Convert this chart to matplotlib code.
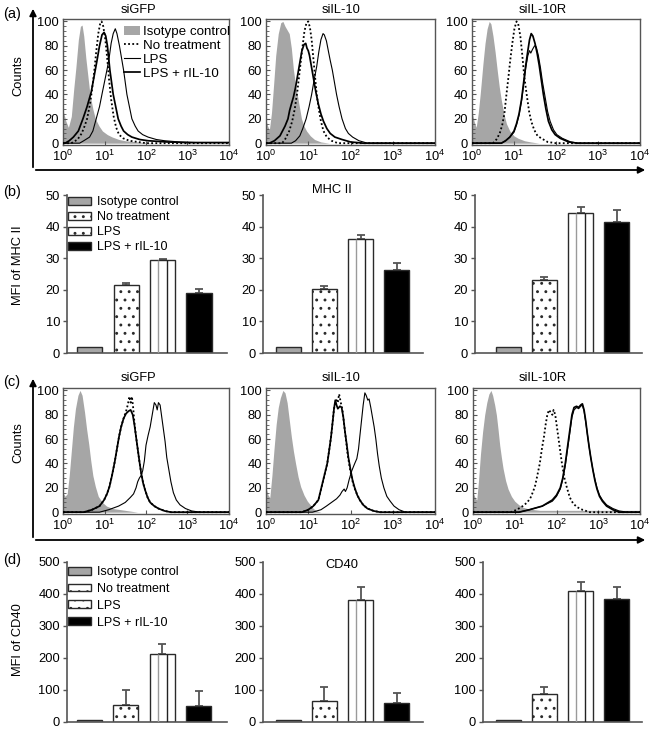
import numpy as np
import matplotlib
matplotlib.use('Agg')
import matplotlib.pyplot as plt
from matplotlib.patches import Patch, FancyArrowPatch
from matplotlib.lines import Line2D
from matplotlib.ticker import FixedLocator, MultipleLocator, LogLocator, NullFormatter

W, H = 651, 729
plt.rcParams['font.family'] = ['Liberation Sans', 'DejaVu Sans']
plt.rcParams['font.size'] = 9.3
plt.rcParams['hatch.linewidth'] = 0.9
plt.rcParams['mathtext.default'] = 'regular'

# ---------------- data ----------------
GROUPS = ['Isotype control', 'No treatment', 'LPS', 'LPS + rIL-10']
CELL_LINES = ['siGFP', 'siIL-10', 'siIL-10R']
HIST_XTICKS = [1, 10, 100, 1000, 10000]
HIST_YTICKS = [0, 20, 40, 60, 80, 100]
MHC_YTICKS = [0, 10, 20, 30, 40, 50]
CD40_YTICKS = [0, 100, 200, 300, 400, 500]

# MFI bars (b) MHC II, (d) CD40 : [isotype, no treatment, LPS, LPS + rIL-10]
MHC_SIGFP = [2, 21.4, 29.3, 19.1]
MHC_SIGFP_ERR = [0, 0.9, 0.4, 1.1]
MHC_SIIL10 = [2, 20.2, 36.1, 26.3]
MHC_SIIL10_ERR = [0, 1.0, 1.3, 2.3]
MHC_SIIL10R = [2, 23.1, 44.3, 41.3]
MHC_SIIL10R_ERR = [0, 1.0, 1.8, 4.0]
CD40_SIGFP = [7, 52, 213, 50]
CD40_SIGFP_ERR = [0, 47, 32, 47]
CD40_SIIL10 = [7, 65, 380, 59]
CD40_SIIL10_ERR = [0, 43, 42, 32]
CD40_SIIL10R = [7, 87, 410, 384]
CD40_SIIL10R_ERR = [0, 22, 29, 38]

# Histograms: (log10 fluorescence, counts)
# (a) MHC II
A_SIGFP_ISO = [(0, 27), (0.07, 18), (0.13, 13), (0.2, 22), (0.26, 45), (0.31, 62), (0.37, 85), (0.42, 96), (0.46, 97), (0.5, 88), (0.55, 70), (0.6, 55), (0.65, 40), (0.72, 28), (0.78, 20), (0.87, 14), (0.95, 10), (1.07, 7), (1.19, 5), (1.35, 3), (1.5, 2), (1.8, 1), (2.2, 0), (4, 0)]
A_SIGFP_NONE = [(0, 0), (0.2, 0), (0.35, 3), (0.45, 8), (0.52, 14), (0.58, 20), (0.65, 32), (0.7, 44), (0.75, 58), (0.8, 75), (0.85, 90), (0.9, 99), (0.93, 100), (0.97, 96), (1.02, 85), (1.07, 68), (1.11, 52), (1.16, 36), (1.22, 22), (1.28, 13), (1.35, 7), (1.45, 4), (1.6, 2), (1.8, 1), (2.0, 0), (4, 0)]
A_SIGFP_IL10 = [(0, 0), (0.05, 0), (0.15, 2), (0.25, 5), (0.37, 10), (0.48, 20), (0.58, 30), (0.68, 42), (0.75, 55), (0.82, 68), (0.88, 80), (0.94, 89), (0.99, 91), (1.03, 88), (1.07, 80), (1.1, 70), (1.13, 60), (1.17, 50), (1.21, 40), (1.27, 30), (1.33, 20), (1.4, 14), (1.46, 10), (1.56, 7), (1.66, 5), (1.85, 3), (2.05, 2), (2.5, 1), (3.0, 0.5), (4, 0.5)]
A_SIGFP_LPS = [(0, 0), (0.4, 0), (0.5, 2), (0.64, 5), (0.72, 10), (0.8, 20), (0.88, 30), (0.95, 42), (1.01, 52), (1.07, 62), (1.12, 72), (1.16, 82), (1.21, 90), (1.26, 94), (1.3, 90), (1.36, 80), (1.41, 70), (1.46, 60), (1.5, 50), (1.54, 40), (1.6, 30), (1.66, 20), (1.74, 14), (1.81, 10), (1.92, 7), (2.05, 5), (2.25, 3), (2.45, 2), (2.8, 1), (3.2, 0.5), (4, 0.5)]

A_SIIL10_ISO = [(0, 19), (0.04, 14), (0.08, 11), (0.13, 25), (0.18, 48), (0.23, 72), (0.29, 90), (0.35, 99), (0.4, 100), (0.45, 96), (0.5, 93), (0.55, 90), (0.6, 78), (0.65, 60), (0.7, 48), (0.75, 38), (0.8, 28), (0.84, 20), (0.9, 14), (0.96, 10), (1.05, 6), (1.15, 3), (1.3, 1), (1.5, 0), (4, 0)]
A_SIIL10_NONE = [(0, 0), (0.38, 0), (0.45, 3), (0.55, 10), (0.62, 18), (0.68, 28), (0.74, 42), (0.8, 60), (0.86, 78), (0.91, 92), (0.96, 99), (1.0, 100), (1.04, 95), (1.08, 85), (1.12, 70), (1.16, 55), (1.2, 40), (1.25, 28), (1.3, 18), (1.36, 10), (1.44, 5), (1.55, 2), (1.7, 0), (4, 0)]
A_SIIL10_IL10 = [(0, 0), (0.08, 0), (0.2, 2), (0.33, 6), (0.45, 14), (0.52, 20), (0.56, 27), (0.6, 32), (0.65, 38), (0.7, 46), (0.75, 56), (0.8, 66), (0.85, 76), (0.9, 81), (0.94, 82), (0.97, 78), (1.0, 76), (1.03, 72), (1.08, 62), (1.13, 52), (1.18, 42), (1.24, 32), (1.3, 24), (1.36, 18), (1.44, 12), (1.52, 8), (1.63, 5), (1.8, 3), (2.0, 1), (2.3, 0), (4, 0)]
A_SIIL10_LPS = [(0, 0), (0.6, 0), (0.7, 2), (0.8, 6), (0.87, 12), (0.95, 20), (1.02, 30), (1.08, 40), (1.14, 52), (1.2, 63), (1.25, 75), (1.3, 85), (1.35, 90), (1.38, 89), (1.43, 84), (1.48, 75), (1.52, 68), (1.57, 60), (1.62, 50), (1.67, 40), (1.73, 30), (1.8, 20), (1.88, 12), (1.95, 8), (2.05, 5), (2.2, 2), (2.4, 0), (4, 0)]

A_SIIL10R_ISO = [(0, 26), (0.05, 18), (0.1, 13), (0.15, 25), (0.2, 42), (0.26, 65), (0.31, 82), (0.36, 94), (0.41, 100), (0.45, 98), (0.5, 88), (0.55, 75), (0.6, 60), (0.65, 46), (0.7, 35), (0.76, 24), (0.82, 16), (0.9, 10), (1.0, 6), (1.1, 4), (1.25, 2), (1.4, 1), (1.6, 0), (4, 0)]
A_SIIL10R_NONE = [(0, 0), (0.5, 0), (0.58, 3), (0.66, 8), (0.72, 15), (0.77, 24), (0.82, 40), (0.87, 55), (0.91, 68), (0.96, 82), (1.01, 94), (1.06, 100), (1.1, 98), (1.15, 88), (1.19, 75), (1.23, 60), (1.27, 48), (1.31, 38), (1.36, 26), (1.41, 18), (1.48, 11), (1.56, 6), (1.65, 4), (1.8, 1), (2.0, 0), (4, 0)]
A_SIIL10R_IL10 = [(0, 0), (0.7, 0), (0.8, 2), (0.9, 5), (1.0, 10), (1.06, 16), (1.12, 24), (1.18, 36), (1.23, 50), (1.28, 64), (1.33, 76), (1.37, 85), (1.41, 90), (1.45, 88), (1.5, 82), (1.55, 74), (1.6, 64), (1.65, 52), (1.7, 40), (1.76, 28), (1.82, 18), (1.9, 11), (1.98, 7), (2.1, 4), (2.3, 1), (2.5, 0), (4, 0)]
A_SIIL10R_LPS = [(0, 0), (0.7, 0), (0.8, 2), (0.9, 5), (1.0, 9), (1.06, 15), (1.12, 23), (1.18, 35), (1.23, 48), (1.28, 62), (1.33, 72), (1.37, 76), (1.4, 74), (1.44, 77), (1.49, 80), (1.53, 79), (1.58, 72), (1.63, 62), (1.68, 50), (1.74, 38), (1.8, 26), (1.86, 18), (1.94, 11), (2.02, 7), (2.15, 4), (2.35, 1), (2.55, 0), (4, 0)]

# (c) CD40
C_SIGFP_ISO = [(0, 16), (0.05, 13), (0.1, 15), (0.15, 30), (0.2, 50), (0.25, 70), (0.3, 85), (0.36, 96), (0.41, 100), (0.46, 96), (0.52, 82), (0.57, 68), (0.62, 56), (0.67, 42), (0.72, 30), (0.78, 21), (0.85, 13), (0.95, 8), (1.05, 5), (1.2, 3), (1.4, 2), (1.6, 1), (1.8, 0), (4, 0)]
C_SIGFP_NONE = [(0, 0), (0.5, 0), (0.7, 2), (0.88, 5), (0.99, 10), (1.06, 15), (1.12, 21), (1.18, 30), (1.25, 42), (1.3, 52), (1.35, 62), (1.4, 70), (1.46, 77), (1.52, 83), (1.56, 88), (1.6, 95), (1.63, 90), (1.66, 95), (1.69, 86), (1.72, 74), (1.76, 62), (1.8, 52), (1.84, 42), (1.88, 33), (1.93, 24), (1.98, 18), (2.04, 12), (2.1, 8), (2.2, 5), (2.3, 3), (2.45, 1), (2.6, 0), (4, 0)]
C_SIGFP_IL10 = [(0, 0), (0.5, 0), (0.7, 2), (0.88, 5), (0.99, 10), (1.06, 15), (1.12, 21), (1.18, 30), (1.25, 42), (1.3, 52), (1.35, 62), (1.4, 70), (1.46, 77), (1.52, 81), (1.58, 83), (1.63, 84), (1.68, 80), (1.72, 72), (1.76, 62), (1.8, 52), (1.84, 42), (1.88, 33), (1.93, 24), (1.98, 18), (2.04, 12), (2.1, 8), (2.2, 5), (2.3, 3), (2.45, 1), (2.6, 0), (4, 0)]
C_SIGFP_LPS = [(0, 0), (0.88, 0), (1.1, 2), (1.34, 5), (1.5, 8), (1.62, 12), (1.7, 15), (1.76, 20), (1.8, 25), (1.84, 28), (1.88, 30), (1.92, 34), (1.96, 42), (2.0, 55), (2.05, 63), (2.1, 70), (2.15, 80), (2.2, 90), (2.24, 88), (2.27, 84), (2.3, 90), (2.34, 88), (2.38, 78), (2.42, 68), (2.46, 58), (2.5, 45), (2.55, 35), (2.6, 25), (2.66, 16), (2.73, 10), (2.82, 6), (2.95, 3), (3.1, 1), (3.3, 0), (4, 0)]

C_SIIL10_ISO = [(0, 20), (0.05, 14), (0.09, 12), (0.14, 30), (0.19, 52), (0.24, 72), (0.29, 86), (0.34, 94), (0.4, 100), (0.45, 98), (0.5, 90), (0.55, 76), (0.6, 62), (0.65, 50), (0.7, 40), (0.76, 29), (0.82, 21), (0.9, 14), (0.98, 9), (1.05, 6), (1.12, 3), (1.2, 1), (1.3, 0), (4, 0)]
C_SIIL10_NONE = [(0, 0), (0.85, 0), (1.0, 2), (1.12, 5), (1.24, 10), (1.31, 20), (1.38, 30), (1.45, 40), (1.5, 52), (1.54, 62), (1.58, 75), (1.61, 85), (1.64, 90), (1.67, 92), (1.7, 90), (1.73, 97), (1.77, 90), (1.81, 84), (1.85, 72), (1.89, 60), (1.93, 48), (1.98, 37), (2.03, 28), (2.08, 21), (2.15, 15), (2.22, 10), (2.3, 6), (2.4, 3), (2.55, 1), (2.7, 0), (4, 0)]
C_SIIL10_IL10 = [(0, 0), (0.85, 0), (1.0, 2), (1.12, 5), (1.24, 10), (1.31, 20), (1.38, 30), (1.45, 40), (1.5, 52), (1.54, 62), (1.58, 75), (1.61, 85), (1.64, 92), (1.67, 88), (1.7, 85), (1.75, 87), (1.79, 86), (1.83, 78), (1.87, 66), (1.91, 56), (1.95, 45), (2.0, 35), (2.05, 26), (2.1, 20), (2.16, 14), (2.22, 10), (2.3, 6), (2.4, 3), (2.55, 1), (2.7, 0), (4, 0)]
C_SIIL10_LPS = [(0, 0), (1.1, 0), (1.3, 2), (1.43, 5), (1.55, 8), (1.67, 11), (1.75, 14), (1.8, 17), (1.85, 19), (1.88, 17), (1.92, 20), (1.97, 27), (2.03, 34), (2.1, 40), (2.15, 44), (2.19, 52), (2.22, 62), (2.26, 75), (2.3, 88), (2.34, 98), (2.37, 96), (2.41, 92), (2.44, 93), (2.48, 86), (2.52, 78), (2.56, 70), (2.6, 60), (2.64, 48), (2.68, 38), (2.73, 28), (2.79, 20), (2.86, 13), (2.94, 9), (3.03, 5), (3.15, 2), (3.3, 0), (4, 0)]

C_SIIL10R_ISO = [(0, 16), (0.05, 12), (0.09, 10), (0.13, 25), (0.18, 48), (0.23, 66), (0.28, 80), (0.33, 90), (0.38, 97), (0.43, 100), (0.47, 96), (0.52, 88), (0.56, 80), (0.6, 68), (0.64, 55), (0.68, 45), (0.72, 36), (0.78, 26), (0.84, 19), (0.92, 13), (1.0, 9), (1.1, 6), (1.2, 4), (1.35, 2.5), (1.6, 1.5), (4, 1.5)]
C_SIIL10R_NONE = [(0, 0), (0.9, 0), (1.05, 2), (1.19, 5), (1.3, 8), (1.38, 12), (1.44, 17), (1.49, 22), (1.54, 30), (1.6, 40), (1.65, 52), (1.7, 62), (1.74, 72), (1.78, 80), (1.82, 84), (1.86, 82), (1.9, 80), (1.93, 84), (1.97, 80), (2.01, 70), (2.05, 60), (2.09, 50), (2.13, 40), (2.19, 28), (2.25, 20), (2.32, 12), (2.4, 7), (2.5, 4), (2.62, 2), (2.8, 0), (4, 0)]
C_SIIL10R_IL10 = [(0, 0), (1.1, 0), (1.35, 2), (1.66, 5), (1.9, 10), (2.0, 14), (2.09, 20), (2.15, 28), (2.21, 40), (2.25, 50), (2.29, 60), (2.33, 70), (2.37, 80), (2.42, 86), (2.48, 87), (2.53, 86), (2.58, 88), (2.62, 89), (2.66, 84), (2.7, 75), (2.74, 64), (2.78, 54), (2.82, 45), (2.87, 35), (2.92, 26), (2.97, 19), (3.03, 13), (3.1, 9), (3.2, 5), (3.35, 2), (3.5, 0), (4, 0)]
C_SIIL10R_LPS = [(0, 0), (1.1, 0), (1.35, 2), (1.66, 5), (1.9, 9), (2.0, 13), (2.09, 19), (2.15, 27), (2.21, 38), (2.25, 48), (2.29, 58), (2.33, 68), (2.37, 78), (2.42, 84), (2.48, 86), (2.53, 85), (2.58, 87), (2.62, 88), (2.66, 83), (2.7, 74), (2.74, 64), (2.78, 54), (2.82, 45), (2.87, 35), (2.92, 27), (2.97, 20), (3.03, 14), (3.1, 10), (3.2, 6), (3.35, 3), (3.5, 1), (3.7, 0), (4, 0)]

# ---------------- style ----------------
GRAY = '#a6a6a6'
EDGE = '#2a2a2a'
AXC = '#555555'
DOTTED = (0, (1.0, 1.3))
FS = 9.3

fig = plt.figure(figsize=(W / 100, H / 100), dpi=100)


def rect(l, t, r, b):
    return [l / W, 1 - b / H, (r - l) / W, (b - t) / H]


def fpt(x, y):
    return (x / W, 1 - y / H)


def draw_hist(ax, iso, none, il10, lps):
    x, y = np.array(iso, dtype=float).T
    ax.fill_between(10 ** x, y, 0, color=GRAY, lw=0, zorder=1)
    x, y = np.array(none, dtype=float).T
    ax.plot(10 ** x, y, color='black', lw=1.3, ls=DOTTED, zorder=3)
    x, y = np.array(lps, dtype=float).T
    ax.plot(10 ** x, y, color='black', lw=0.8, zorder=4)
    x, y = np.array(il10, dtype=float).T
    ax.plot(10 ** x, y, color='black', lw=1.25, zorder=5)
    ax.set_xscale('log')
    ax.set_xlim(HIST_XTICKS[0], HIST_XTICKS[-1])
    ax.set_ylim(-1.5, 102)
    ax.xaxis.set_major_locator(FixedLocator(HIST_XTICKS))
    ax.xaxis.set_minor_locator(LogLocator(base=10, subs=np.arange(2, 10)))
    ax.xaxis.set_minor_formatter(NullFormatter())
    ax.yaxis.set_major_locator(FixedLocator(HIST_YTICKS))
    ax.yaxis.set_minor_locator(MultipleLocator(4))
    ax.tick_params(which='both', direction='in', colors=AXC, labelcolor='black',
                   labelsize=FS, top=False, right=False)
    ax.tick_params(which='major', length=3, width=0.8, pad=3)
    ax.tick_params(which='minor', length=2, width=0.6)
    for s in ax.spines.values():
        s.set_color(AXC)
        s.set_linewidth(1.0)


def draw_bars(ax, vals, errs, ymax, yticks, xlim):
    xs = np.arange(len(vals))
    w = 0.69
    ax.bar(xs[0], vals[0], w, color=GRAY, edgecolor=EDGE, lw=1, zorder=2)
    ax.bar(xs[1], vals[1], w, color='white', edgecolor=EDGE, hatch='..', lw=1, zorder=2)
    ax.bar(xs[2], vals[2], w, color='white', edgecolor=EDGE, lw=1, zorder=2)
    ax.vlines([xs[2] - 0.13, xs[2] + 0.13], 0, vals[2], colors=['#9a9a9a', '#222222'],
              lw=1.0, zorder=3)
    ax.bar(xs[3], vals[3], w, color='black', edgecolor=EDGE, lw=1, zorder=2)
    ax.errorbar(xs[1:], vals[1:], yerr=[np.zeros(len(xs) - 1), errs[1:]], fmt='none',
                ecolor='#555555', elinewidth=1.3, capsize=3, capthick=1.3, zorder=1)
    ax.set_ylim(0, ymax)
    ax.set_xlim(*xlim)
    ax.set_yticks(yticks)
    ax.set_xticks([])
    ax.spines['top'].set_visible(False)
    ax.spines['right'].set_visible(False)
    for s in ('left', 'bottom'):
        ax.spines[s].set_color(AXC)
        ax.spines[s].set_linewidth(1.2)
    ax.tick_params(axis='y', direction='out', length=3, width=1, colors=AXC,
                   labelcolor='black', labelsize=FS, pad=2)


# ---------- (a) MHC II histograms ----------
a_cols = [(63, 229), (266, 435), (472, 640)]
a_data = [(A_SIGFP_ISO, A_SIGFP_NONE, A_SIGFP_IL10, A_SIGFP_LPS),
          (A_SIIL10_ISO, A_SIIL10_NONE, A_SIIL10_IL10, A_SIIL10_LPS),
          (A_SIIL10R_ISO, A_SIIL10R_NONE, A_SIIL10R_IL10, A_SIIL10R_LPS)]
title_x = [138, 341, 543]
a_axes = []
for (l, r), d in zip(a_cols, a_data):
    ax = fig.add_axes(rect(l, 19, r, 145))
    draw_hist(ax, *d)
    a_axes.append(ax)
for tx, name in zip(title_x, CELL_LINES):
    fig.text(*fpt(tx, 10), name, ha='center', va='center', fontsize=FS)

leg_handles = [Patch(facecolor=GRAY, edgecolor='none'),
               Line2D([], [], color='black', lw=1.3, ls=DOTTED),
               Line2D([], [], color='black', lw=0.8),
               Line2D([], [], color='black', lw=1.25)]
a_axes[0].legend(leg_handles, GROUPS, loc='upper left', bbox_to_anchor=fpt(124, 26),
                 bbox_transform=fig.transFigure, frameon=False, borderpad=0,
                 borderaxespad=0, handlelength=1.2, handleheight=0.65,
                 handletextpad=0.25, labelspacing=0.13, fontsize=9.6)

# ---------- (c) CD40 histograms ----------
c_cols = [(63, 229), (266, 435), (473, 640)]
c_data = [(C_SIGFP_ISO, C_SIGFP_NONE, C_SIGFP_IL10, C_SIGFP_LPS),
          (C_SIIL10_ISO, C_SIIL10_NONE, C_SIIL10_IL10, C_SIIL10_LPS),
          (C_SIIL10R_ISO, C_SIIL10R_NONE, C_SIIL10R_IL10, C_SIIL10R_LPS)]
for (l, r), d in zip(c_cols, c_data):
    ax = fig.add_axes(rect(l, 388, r, 514))
    draw_hist(ax, *d)
for tx, name in zip(title_x, CELL_LINES):
    fig.text(*fpt(tx, 378), name, ha='center', va='center', fontsize=FS)

# ---------- (b) MHC II MFI ----------
b_cols = [(67, 227, (-0.63, 3.77)), (263, 423, (-0.69, 3.72)), (475, 642, (-0.91, 3.69))]
b_vals = [(MHC_SIGFP, MHC_SIGFP_ERR), (MHC_SIIL10, MHC_SIIL10_ERR), (MHC_SIIL10R, MHC_SIIL10R_ERR)]
b_axes = []
for (l, r, xl), (v, e) in zip(b_cols, b_vals):
    ax = fig.add_axes(rect(l, 195, r, 353))
    draw_bars(ax, v, e, MHC_YTICKS[-1], MHC_YTICKS, xl)
    b_axes.append(ax)
fig.text(*fpt(332, 190), 'MHC II', ha='center', va='center', fontsize=FS)

bar_handles = [Patch(facecolor=GRAY, edgecolor=EDGE, lw=1),
               Patch(facecolor='white', edgecolor=EDGE, hatch='..', lw=1),
               Patch(facecolor='white', edgecolor=EDGE, hatch='..', lw=1),
               Patch(facecolor='black', edgecolor=EDGE, lw=1)]
b_axes[0].legend(bar_handles, GROUPS, loc='upper left', bbox_to_anchor=fpt(68, 196),
                 bbox_transform=fig.transFigure, frameon=False, borderpad=0,
                 borderaxespad=0, handlelength=1.8, handleheight=0.6,
                 handletextpad=0.55, labelspacing=0.25, fontsize=9.0)

# ---------- (d) CD40 MFI ----------
d_cols = [(67, 227, (-0.61, 3.77)), (263, 423, (-0.69, 3.72)), (483, 642, (-0.69, 3.69))]
d_vals = [(CD40_SIGFP, CD40_SIGFP_ERR), (CD40_SIIL10, CD40_SIIL10_ERR), (CD40_SIIL10R, CD40_SIIL10R_ERR)]
d_axes = []
for (l, r, xl), (v, e) in zip(d_cols, d_vals):
    ax = fig.add_axes(rect(l, 562, r, 722))
    draw_bars(ax, v, e, CD40_YTICKS[-1], CD40_YTICKS, xl)
    d_axes.append(ax)
fig.text(*fpt(342, 565), 'CD40', ha='center', va='center', fontsize=FS)
d_axes[0].legend(bar_handles, GROUPS, loc='upper left', bbox_to_anchor=fpt(68, 566),
                 bbox_transform=fig.transFigure, frameon=False, borderpad=0,
                 borderaxespad=0, handlelength=1.8, handleheight=0.6,
                 handletextpad=0.55, labelspacing=0.39, fontsize=9.0)

# ---------- outer arrows, labels ----------
for y_axis, y_top in [(170, 6), (540, 376)]:
    fig.add_artist(FancyArrowPatch(
        fpt(33, y_axis), fpt(33, y_top), transform=fig.transFigure,
        arrowstyle='-|>', mutation_scale=10, lw=1.3, color='black'))
    fig.add_artist(FancyArrowPatch(
        fpt(33, y_axis), fpt(648, y_axis), transform=fig.transFigure,
        arrowstyle='-|>', mutation_scale=10, lw=1.3, color='black'))

for lab, y in [('(a)', 14), ('(b)', 192), ('(c)', 382), ('(d)', 560)]:
    fig.text(*fpt(3, y), lab, ha='left', va='center', fontsize=10.5)

for lab, y in [('Counts', 76), ('MFI of MHC II', 265), ('Counts', 443), ('MFI of CD40', 640)]:
    fig.text(*fpt(18, y), lab, ha='center', va='center', rotation=90, fontsize=FS)

fig.savefig('out.png', dpi=100)
